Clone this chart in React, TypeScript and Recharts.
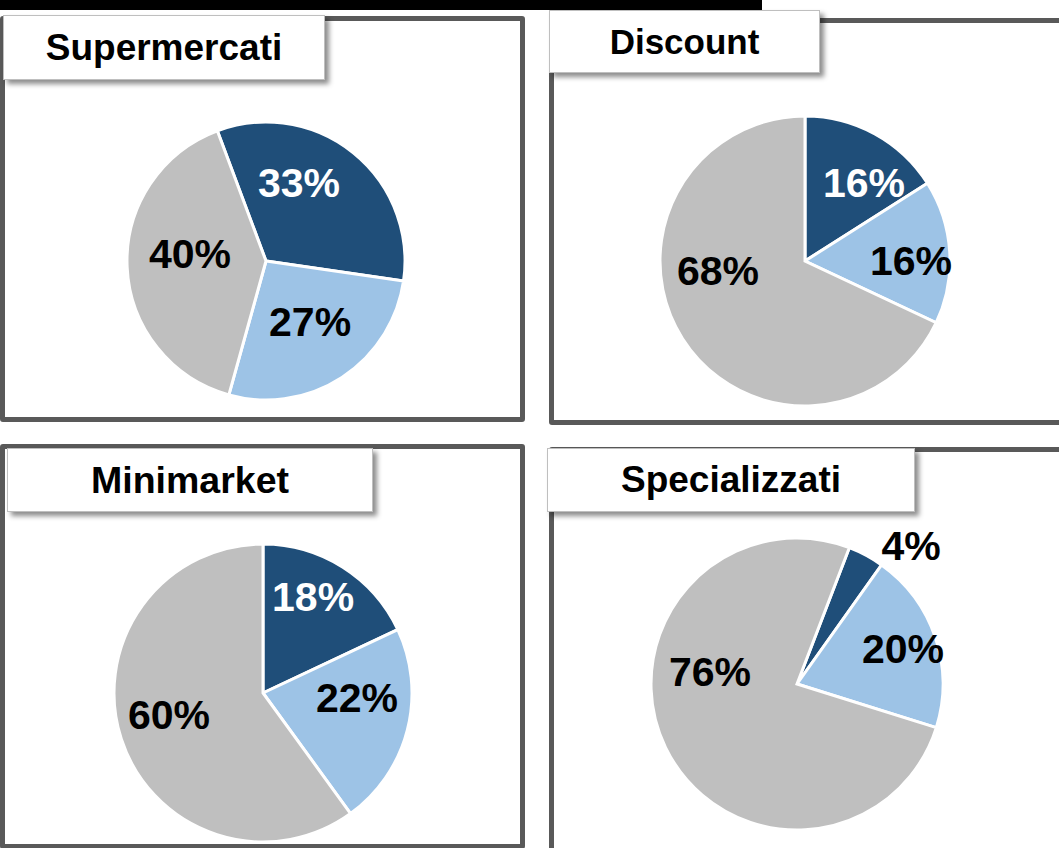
import React from 'react';
import { PieChart, Pie, Cell } from 'recharts';

// ---- Data ----
const channels = ['Supermercati', 'Discount', 'Minimarket', 'Specializzati'];
const sliceNames = ['Quota 1', 'Quota 2', 'Altro'];
const supermercatiValues = [33, 27, 40];
const discountValues = [16, 16, 68];
const minimarketValues = [18, 22, 60];
const specializzatiValues = [4, 20, 76];

// ---- Styles / layout ----
const COLORS = ['#1F4E79', '#9DC3E6', '#BFBFBF'];
const INSIDE_LABEL_COLORS = ['#FFFFFF', '#000000', '#000000'];
const OUTSIDE_LABEL_COLORS = ['#000000', '#000000', '#000000'];
const FONT = '"Liberation Sans", Arial, sans-serif';

const layouts = [
  {
    frame: { left: 0, top: 16, width: 525, height: 406 },
    title: { left: 3, top: 15, width: 322, height: 65, fontSize: 37 },
    pie: { cx: 266, cy: 261, r: 139, start: 110.5 },
    labelOffsets: [[0.237, -0.561], [0.317, 0.439], [-0.547, -0.05]],
    labelColors: INSIDE_LABEL_COLORS,
  },
  {
    frame: { left: 549, top: 18, width: 530, height: 407 },
    title: { left: 549, top: 10, width: 271, height: 63, fontSize: 35 },
    pie: { cx: 805, cy: 261, r: 145, start: 90 },
    labelOffsets: [[0.407, -0.538], [0.731, 0.0], [-0.6, 0.069]],
    labelColors: INSIDE_LABEL_COLORS,
  },
  {
    frame: { left: 0, top: 444, width: 525, height: 405 },
    title: { left: 7, top: 448, width: 366, height: 64, fontSize: 37.5 },
    pie: { cx: 263, cy: 693, r: 149, start: 90 },
    labelOffsets: [[0.336, -0.644], [0.631, 0.034], [-0.631, 0.148]],
    labelColors: INSIDE_LABEL_COLORS,
  },
  {
    frame: { left: 549, top: 447, width: 530, height: 420 },
    title: { left: 547, top: 448, width: 368, height: 64, fontSize: 37 },
    pie: { cx: 797, cy: 684, r: 146, start: 69 },
    labelOffsets: [[0.781, -0.945], [0.726, -0.24], [-0.596, -0.082]],
    labelColors: OUTSIDE_LABEL_COLORS,
  },
];

const seriesValues = [supermercatiValues, discountValues, minimarketValues, specializzatiValues];

const buildData = (values: number[]) =>
  values.map((v, i) => ({ name: sliceNames[i], value: v }));

const makeLabel = (offsets: number[][], colors: string[]) => (props: any) => {
  const { cx, cy, outerRadius, index, value } = props;
  const [fx, fy] = offsets[index];
  return (
    <text
      key={`lbl-${index}`}
      x={cx + fx * outerRadius}
      y={cy + fy * outerRadius}
      textAnchor="middle"
      dominantBaseline="central"
      fill={colors[index]}
      fontSize={41}
      fontWeight="bold"
      fontFamily={FONT}
    >
      {`${value}%`}
    </text>
  );
};

export default function App() {
  return (
    <div
      style={{
        position: 'absolute',
        left: 0,
        top: 0,
        width: 1059,
        height: 848,
        overflow: 'hidden',
        background: '#FFFFFF',
      }}
    >
      {/* top black bar */}
      <div style={{ position: 'absolute', left: 0, top: 0, width: 762, height: 10, background: '#000000' }} />

      {/* panel frames */}
      {layouts.map((l, i) => (
        <div
          key={`frame-${i}`}
          style={{
            position: 'absolute',
            left: l.frame.left,
            top: l.frame.top,
            width: l.frame.width,
            height: l.frame.height,
            border: '5px solid #595959',
            borderRadius: 3,
            boxSizing: 'border-box',
          }}
        />
      ))}

      {/* pies */}
      <div style={{ position: 'absolute', left: 0, top: 0 }}>
        <PieChart width={1059} height={848} margin={{ top: 0, right: 0, bottom: 0, left: 0 }}>
          {layouts.map((l, i) => (
            <Pie
              key={`pie-${i}`}
              data={buildData(seriesValues[i])}
              dataKey="value"
              nameKey="name"
              cx={l.pie.cx}
              cy={l.pie.cy}
              outerRadius={l.pie.r}
              innerRadius={0}
              startAngle={l.pie.start}
              endAngle={l.pie.start - 360}
              stroke="#FFFFFF"
              strokeWidth={3}
              isAnimationActive={false}
              labelLine={false}
              label={makeLabel(l.labelOffsets, l.labelColors)}
            >
              {seriesValues[i].map((_, j) => (
                <Cell key={`c-${i}-${j}`} fill={COLORS[j]} />
              ))}
            </Pie>
          ))}
        </PieChart>
      </div>

      {/* title boxes */}
      {layouts.map((l, i) => (
        <div
          key={`title-${i}`}
          style={{
            position: 'absolute',
            left: l.title.left,
            top: l.title.top,
            width: l.title.width,
            height: l.title.height,
            boxSizing: 'border-box',
            background: '#FFFFFF',
            border: '1px solid #BFBFBF',
            boxShadow: '4px 4px 5px rgba(0,0,0,0.45)',
            display: 'flex',
            alignItems: 'center',
            justifyContent: 'center',
            fontFamily: FONT,
            fontWeight: 'bold',
            fontSize: l.title.fontSize,
            color: '#000000',
          }}
        >
          {channels[i]}
        </div>
      ))}
    </div>
  );
}
